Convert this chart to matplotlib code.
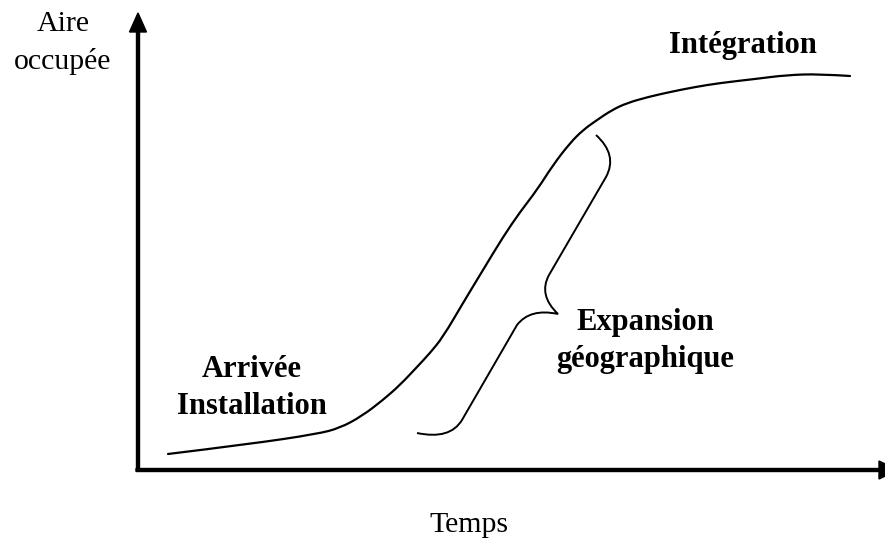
import matplotlib.pyplot as plt
from matplotlib.path import Path
from matplotlib.patches import PathPatch

# S-shaped curve : temps vs aire occupee (schematic units)
temps = [30, 112, 179, 202, 224, 245, 262, 279, 292, 305, 325, 345, 365, 382,
         399, 415, 432, 445, 459, 474, 489, 510, 532, 557, 582, 617, 649, 682, 712]
aire = [16, 26, 36, 42, 54, 70, 85, 103, 117, 133, 167, 200, 233, 258,
        280, 305, 327, 340, 350, 360, 367, 373, 378, 383, 387, 391, 395, 396, 394]

# brace marking the expansion phase
brace_t = [458, 480, 468, 411, 400, 420, 392, 379, 324, 312, 279]
brace_a = [335, 315, 293, 195, 175, 156, 162, 145, 50, 30, 37]
brace_codes = [Path.MOVETO, Path.CURVE3, Path.CURVE3, Path.LINETO,
               Path.CURVE3, Path.CURVE3, Path.CURVE3, Path.CURVE3,
               Path.LINETO, Path.CURVE3, Path.CURVE3]

fig = plt.figure(figsize=(8.85, 5.46), dpi=100)
ax = fig.add_axes([0, 0, 1, 1])
ax.set_xlim(-138, 747)
ax.set_ylim(-76, 470)
ax.axis('off')

serif = 'Liberation Serif'

# axes with arrows
ax.arrow(0, -1, 0, 458, width=3, head_width=17, head_length=19,
         length_includes_head=True, color='black')
ax.arrow(-2, 0, 762, 0, width=3, head_width=18, head_length=19,
         length_includes_head=True, color='black')

# smooth drawing of the curve: points used as quadratic control points
pts = list(zip(temps, aire))
verts = [pts[0]]
codes = [Path.MOVETO]
for i in range(1, len(pts) - 1):
    mid = ((pts[i][0] + pts[i + 1][0]) / 2, (pts[i][1] + pts[i + 1][1]) / 2)
    if i == len(pts) - 2:
        mid = pts[-1]
    verts += [pts[i], mid]
    codes += [Path.CURVE3, Path.CURVE3]
ax.add_patch(PathPatch(Path(verts, codes), facecolor='none', edgecolor='black',
                       lw=1.6, capstyle='round'))

brace = Path(list(zip(brace_t, brace_a)), brace_codes)
ax.add_patch(PathPatch(brace, facecolor='none', edgecolor='black', lw=1.4))

ax.text(-75, 427, 'Aire\noccupée', ha='center', va='center', family=serif,
        fontsize=21.5, linespacing=1.5)
ax.text(331, -55, 'Temps', ha='center', va='center', family=serif, fontsize=21.5)

ax.text(605, 424, 'Intégration', ha='center', va='center', family=serif,
        fontsize=22, fontweight='bold')
ax.text(114, 82, 'Arrivée\nInstallation', ha='center', va='center', family=serif,
        fontsize=22, fontweight='bold', linespacing=1.33)
ax.text(507, 129, 'Expansion\ngéographique', ha='center', va='center', family=serif,
        fontsize=22, fontweight='bold', linespacing=1.33)

fig.savefig('out.png', dpi=100)
